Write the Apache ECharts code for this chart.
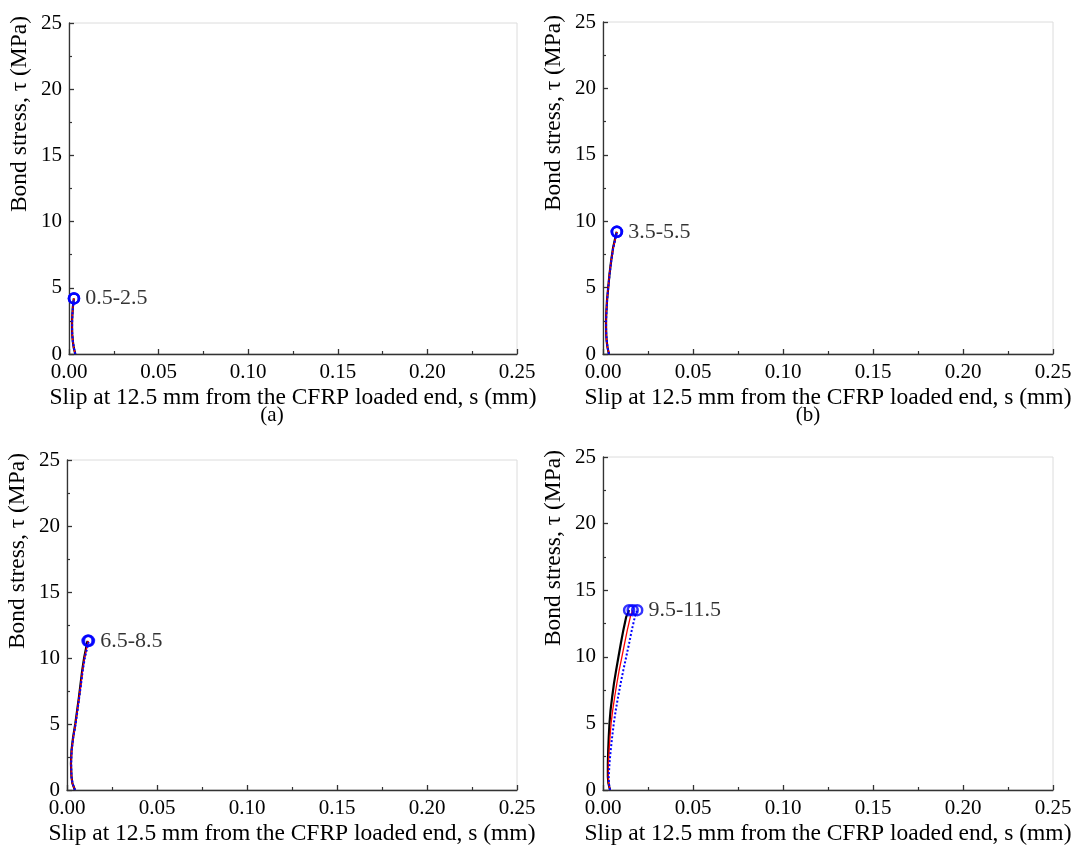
<!DOCTYPE html>
<html>
<head>
<meta charset="utf-8">
<script src="https://cdn.jsdelivr.net/npm/echarts@6/dist/echarts.min.js"></script>
<style>
  html, body { margin: 0; padding: 0; background: #fff; }
  #chart { width: 1076px; height: 847px; }
</style>
</head>
<body>
<div id="chart"></div>
<script>
// Bond stress vs. slip at 12.5 mm from the CFRP loaded end, four load ranges
const panelTags = ['(a)', '(b)', '(c)', '(d)'];
const rangeLabels = ['0.5-2.5', '3.5-5.5', '6.5-8.5', '9.5-11.5'];
const xTicks = [0, 0.05, 0.10, 0.15, 0.20, 0.25];
const yTicks = [0, 5, 10, 15, 20, 25];

// Panel (a)
const tauA = [0, 0.5, 1, 1.5, 2, 2.5, 3, 3.5, 4, 4.2];
const slipA_black = [0.0035, 0.0026, 0.0021, 0.0018, 0.0017, 0.0017, 0.0019, 0.0021, 0.0025, 0.0027];
const slipA_red   = [0.0035, 0.0026, 0.0021, 0.0018, 0.0017, 0.0017, 0.0019, 0.0022, 0.0025, 0.0028];
const slipA_blue  = [0.0035, 0.0027, 0.0021, 0.0018, 0.0017, 0.0018, 0.0019, 0.0022, 0.0026, 0.0028];

// Panel (b)
const tauB = [0, 0.5, 1, 1.5, 2, 2.5, 3, 4, 5, 6, 7, 8, 9.2];
const slipB_black = [0.0033, 0.0025, 0.0020, 0.0018, 0.0017, 0.0017, 0.0018, 0.0022, 0.0029, 0.0036, 0.0045, 0.0056, 0.0076];
const slipB_red   = [0.0033, 0.0025, 0.0020, 0.0018, 0.0017, 0.0017, 0.0018, 0.0022, 0.0029, 0.0036, 0.0045, 0.0057, 0.0077];
const slipB_blue  = [0.0033, 0.0025, 0.0021, 0.0018, 0.0017, 0.0017, 0.0019, 0.0023, 0.0029, 0.0037, 0.0046, 0.0057, 0.0078];

// Panel (c)
const tauC = [0, 0.5, 1, 2, 3, 4, 5, 6, 7, 8, 9, 10, 11.3];
const slipC_black = [0.0044, 0.0030, 0.0025, 0.0022, 0.0025, 0.0034, 0.0046, 0.0056, 0.0066, 0.0075, 0.0084, 0.0095, 0.0114];
const slipC_red   = [0.0044, 0.0030, 0.0025, 0.0022, 0.0026, 0.0035, 0.0047, 0.0057, 0.0067, 0.0077, 0.0086, 0.0097, 0.0118];
const slipC_blue  = [0.0044, 0.0031, 0.0025, 0.0023, 0.0026, 0.0035, 0.0048, 0.0058, 0.0068, 0.0078, 0.0087, 0.0099, 0.0122];

// Panel (d)
const tauD = [0, 0.5, 1, 2, 3, 4, 5, 6, 7, 8, 9, 10, 11, 12, 13, 13.5];
const slipD_black = [0.0039, 0.0030, 0.0027, 0.0027, 0.0029, 0.0032, 0.0036, 0.0042, 0.0051, 0.0061, 0.0073, 0.0086, 0.0099, 0.0113, 0.0129, 0.0145];
const slipD_red   = [0.0039, 0.0031, 0.0029, 0.0030, 0.0034, 0.0039, 0.0045, 0.0054, 0.0065, 0.0077, 0.0090, 0.0105, 0.0120, 0.0135, 0.0152, 0.0165];
const slipD_blue  = [0.0039, 0.0033, 0.0032, 0.0036, 0.0043, 0.0051, 0.0060, 0.0071, 0.0084, 0.0098, 0.0113, 0.0129, 0.0145, 0.0160, 0.0177, 0.0190];

const panels = [
  { tau: tauA, black: slipA_black, red: slipA_red, blue: slipA_blue },
  { tau: tauB, black: slipB_black, red: slipB_red, blue: slipB_blue },
  { tau: tauC, black: slipC_black, red: slipC_red, blue: slipC_blue },
  { tau: tauD, black: slipD_black, red: slipD_red, blue: slipD_blue }
];

const FONT = '"Liberation Serif", "Times New Roman", serif';
const FS_TICK = 21;
const FS_TITLE = 23.5;
const FS_LABEL = 22;
const xTitle = 'Slip at 12.5 mm from the CFRP loaded end, s (mm)';
const yTitle = 'Bond stress, \u03c4 (MPa)';

// plot rectangles in pixels
const boxes = [
  { left: 69, top: 23, width: 448, height: 331 },
  { left: 603, top: 22, width: 450, height: 332 },
  { left: 67, top: 460, width: 450, height: 334 },
  { left: 603, top: 457, width: 450, height: 336 }
];

const pairs = (xs, ys) => xs.map((x, i) => [x, ys[i]]);

const grid = [], xAxis = [], yAxis = [], series = [], graphic = [];

boxes.forEach((b, i) => {
  grid.push({
    left: b.left, top: b.top, width: b.width, height: b.height,
    show: true, borderColor: '#dcdcdc', borderWidth: 1, backgroundColor: 'transparent'
  });
  xAxis.push({
    gridIndex: i, type: 'value',
    min: xTicks[0], max: xTicks[xTicks.length - 1], interval: 0.05,
    name: xTitle, nameLocation: 'middle', nameGap: 32,
    nameTextStyle: { fontFamily: FONT, fontSize: FS_TITLE, color: '#000' },
    axisLine: { show: true, onZero: false, lineStyle: { color: '#333', width: 1.3 } },
    axisTick: { show: true, inside: true, length: 5, lineStyle: { color: '#333', width: 1.3 } },
    minorTick: { show: true, splitNumber: 2, length: 3, lineStyle: { color: '#333', width: 1.2 } },
    splitLine: { show: false },
    axisLabel: { fontFamily: FONT, fontSize: FS_TICK, color: '#000', margin: 8,
      formatter: v => v.toFixed(2) }
  });
  yAxis.push({
    gridIndex: i, type: 'value',
    min: yTicks[0], max: yTicks[yTicks.length - 1], interval: 5,
    axisLine: { show: true, onZero: false, lineStyle: { color: '#333', width: 1.3 } },
    axisTick: { show: true, inside: true, length: 5, lineStyle: { color: '#333', width: 1.3 } },
    minorTick: { show: true, splitNumber: 2, length: 3, lineStyle: { color: '#333', width: 1.2 } },
    splitLine: { show: false },
    axisLabel: { fontFamily: FONT, fontSize: FS_TICK, color: '#000', margin: 7 }
  });

  const p = panels[i];
  series.push({
    type: 'line', xAxisIndex: i, yAxisIndex: i, data: pairs(p.black, p.tau),
    showSymbol: false, lineStyle: { color: '#000', width: 2.2 }, z: 2, silent: true
  });
  series.push({
    type: 'line', xAxisIndex: i, yAxisIndex: i, data: pairs(p.red, p.tau),
    showSymbol: false, lineStyle: { color: '#ff0000', width: 1.3 }, z: 3, silent: true
  });
  series.push({
    type: 'line', xAxisIndex: i, yAxisIndex: i, data: pairs(p.blue, p.tau),
    showSymbol: false, lineStyle: { color: '#0000ff', width: 2, type: [2, 2] }, z: 4, silent: true
  });
  // peak markers, one per curve; range label beside the outermost one
  const n = p.tau.length - 1;
  series.push({
    type: 'scatter', xAxisIndex: i, yAxisIndex: i,
    data: [
      { value: [p.black[n], p.tau[n]] },
      { value: [p.red[n], p.tau[n]] },
      { value: [p.blue[n], p.tau[n]],
        label: { show: true, position: 'right', distance: 5, formatter: rangeLabels[i],
                 fontFamily: FONT, fontSize: FS_LABEL, color: '#000' } }
    ],
    symbol: 'circle', symbolSize: 10,
    itemStyle: { color: 'rgba(255,255,255,0)', borderColor: '#0000ff', borderWidth: 2.5 },
    z: 5, silent: true
  });

  // vertical axis title
  graphic.push({
    type: 'text',
    x: b.left - 49, y: b.top + 91,
    rotation: Math.PI / 2,
    style: { text: yTitle, font: FS_TITLE + 'px ' + FONT, fill: '#000',
             align: 'center', verticalAlign: 'middle',
             textAlign: 'center', textVerticalAlign: 'middle' }
  });
});

// sub-figure tags under the top row
[[272, 415, 0], [808, 415, 1]].forEach(([x, y, k]) => {
  graphic.push({
    type: 'text', x: x, y: y,
    style: { text: panelTags[k], font: FS_TICK + 'px ' + FONT, fill: '#000',
             align: 'center', verticalAlign: 'middle',
             textAlign: 'center', textVerticalAlign: 'middle' }
  });
});

const chart = echarts.init(document.getElementById('chart'), null, { renderer: 'canvas' });
chart.setOption({
  animation: false,
  backgroundColor: '#fff',
  grid, xAxis, yAxis, series, graphic
});
</script>
</body>
</html>
